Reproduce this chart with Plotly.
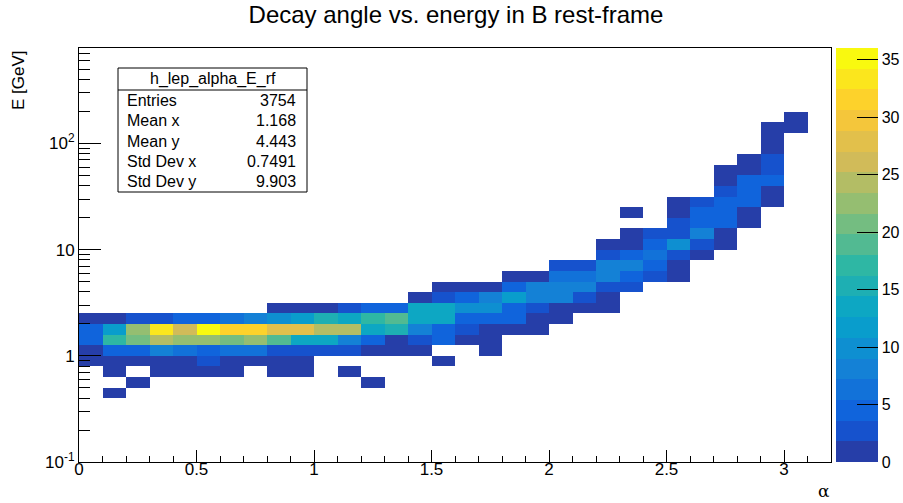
import plotly.graph_objects as go

# ---------------- data ----------------
alpha_edges = [round(0.1 * i, 1) for i in range(33)]          # alpha bins 0 .. 3.2
logE_edges = [round(-1.0 + 0.1 * k, 1) for k in range(40)]     # log10(E/GeV) bins -1 .. 2.9
E_edges = [10 ** v for v in logE_edges]

# occupied E-bin rows: bin index, first alpha-bin index, bin contents from there on
row_index = [6, 7, 8, 9, 10, 11, 12, 13, 14, 15, 16, 17, 18, 19,
             20, 21, 22, 23, 24, 25, 26, 27, 28, 29, 30, 31, 32]
row_start = [1, 2, 1, 0, 0, 0, 0, 0, 8, 14, 15, 18, 20, 22,
             22, 23, 25, 23, 25, 27, 27, 27, 28, 29, 29, 29, 30]
row_counts = [
    [1],
    [1, 0, 0, 0, 0, 0, 0, 0, 0, 0, 1],
    [1, 0, 1, 1, 1, 1, 0, 1, 1, 0, 1],
    [1, 1, 1, 1, 1, 2, 1, 1, 1, 1, 0, 0, 0, 0, 0, 1],
    [1, 4, 4, 8, 6, 4, 6, 6, 2, 2, 2, 2, 1, 1, 1, 0, 0, 1],
    [4, 17, 20, 24, 22, 22, 20, 22, 19, 13, 13, 8, 4, 1, 2, 4, 1, 1],
    [4, 11, 22, 33, 26, 35, 31, 31, 28, 28, 24, 24, 13, 15, 8, 4, 2, 1, 1, 1],
    [1, 1, 2, 2, 4, 4, 6, 8, 10, 12, 15, 13, 17, 19, 13, 13, 4, 4, 4, 1, 1],
    [1, 1, 1, 2, 4, 4, 13, 13, 10, 10, 4, 2, 1, 1, 1],
    [1, 2, 4, 8, 11, 8, 8, 2, 1],
    [1, 1, 1, 4, 8, 8, 8, 2, 2],
    [1, 1, 6, 6, 8, 4, 2, 1],
    [2, 2, 8, 8, 4, 1],
    [2, 4, 6, 2, 1],
    [1, 1, 4, 10, 2, 1],
    [1, 2, 2, 8, 1],
    [2, 4, 4, 1],
    [1, 0, 1, 4, 4, 1],
    [1, 2, 4, 4, 1],
    [2, 4, 1],
    [1, 4, 4],
    [1, 1, 2],
    [1, 2],
    [1],
    [1],
    [1, 1],
    [1],
]

stats_names = ["Entries", "Mean x", "Mean y", "Std Dev x", "Std Dev y"]
stats_values = ["3754", "1.168", "4.443", "0.7491", "9.903"]
hist_name = "h_lep_alpha_E_rf"
z_ticks = [0, 5, 10, 15, 20, 25, 30, 35]
z_max = 36

# ---------------- build matrix ----------------
n_x = len(alpha_edges) - 1
n_y = len(E_edges) - 1
z = [[None] * n_x for _ in range(n_y)]
for k, s, vals in zip(row_index, row_start, row_counts):
    for j, v in enumerate(vals):
        if v > 0:
            z[k][s + j] = v

# ---------------- ROOT kBird palette, 20 contour levels ----------------
stops = [0.0, 0.125, 0.25, 0.375, 0.5, 0.625, 0.75, 0.875, 1.0]
red = [0.2082, 0.0592, 0.0780, 0.0232, 0.1802, 0.5301, 0.8186, 0.9956, 0.9764]
green = [0.1664, 0.3599, 0.5041, 0.6419, 0.7178, 0.7492, 0.7328, 0.7862, 0.9832]
blue = [0.5293, 0.8684, 0.8385, 0.7914, 0.6425, 0.4662, 0.3499, 0.1968, 0.0539]
NCOL = 255
palette = []
for g in range(len(stops) - 1):
    n = int(NCOL * stops[g + 1]) - int(NCOL * stops[g])
    for c in range(n):
        f = c / n
        palette.append((red[g] + (red[g + 1] - red[g]) * f,
                        green[g] + (green[g + 1] - green[g]) * f,
                        blue[g] + (blue[g + 1] - blue[g]) * f))
NDIV = 20
colorscale = []
for i in range(NDIV):
    idx = min(int((i + 0.99) * NCOL / NDIV), NCOL - 1)
    r, gg, b = palette[idx]
    col = "rgb(%d,%d,%d)" % (round(r * 255), round(gg * 255), round(b * 255))
    colorscale.append([i / NDIV, col])
    colorscale.append([(i + 1) / NDIV, col])

# ---------------- geometry (pixels) ----------------
W, H = 903, 503
L, R, T, B = 79, 831, 48, 462
def px(xp):
    return (xp - L) / (R - L)
def py(yp):
    return (B - yp) / (B - T)

FONT = "Liberation Sans, Arial, Helvetica, sans-serif"

fig = go.Figure()
fig.add_trace(go.Heatmap(
    x=alpha_edges, y=E_edges, z=z, zmin=0, zmax=z_max,
    colorscale=colorscale, hoverinfo="skip",
    colorbar=dict(
        x=px(836), xanchor="left", xpad=0, y=0.5, yanchor="middle",
        len=1, lenmode="fraction", ypad=0, thickness=42, thicknessmode="pixels",
        outlinewidth=0, tickmode="array", tickvals=z_ticks,
        ticks="inside", ticklen=21, tickcolor="black", tickwidth=1,
        tickfont=dict(size=16, color="black", family=FONT),
    ),
))

major_y = [0.1, 1, 10, 100]
minor_y = [m * 10 ** d for d in (-1, 0, 1, 2) for m in range(2, 10) if m * 10 ** d < 790]

fig.update_layout(
    width=W, height=H,
    margin=dict(l=L, r=W - R, t=T, b=H - B, pad=0, autoexpand=False),
    paper_bgcolor="white", plot_bgcolor="white",
    font=dict(family=FONT, size=17, color="black"),
    title=dict(text="Decay angle vs. energy in B rest-frame", x=456 / W, xanchor="center",
               y=1 - 15 / H, yanchor="middle", font=dict(size=24, family=FONT)),
    xaxis=dict(range=[0, 3.2], showline=True, mirror=True, linecolor="black", linewidth=1,
               ticks="inside", ticklen=12, tickwidth=1, tickcolor="black",
               tick0=0, dtick=0.5, showgrid=False, zeroline=False,
               ticklabelstandoff=-8,
               minor=dict(ticks="inside", ticklen=6, tick0=0, dtick=0.1, tickcolor="black",
                          showgrid=False),
               tickfont=dict(size=17)),
    yaxis=dict(type="log", range=[-1, 2.9], showline=True, mirror=True, linecolor="black",
               linewidth=1, ticks="inside", ticklen=22, tickwidth=1, tickcolor="black",
               tickmode="array", tickvals=major_y,
               ticktext=["10<sup>-1</sup>", "1", "10", "10<sup>2</sup>"],
               showgrid=False, zeroline=False,
               minor=dict(ticks="inside", ticklen=11, tickmode="array", tickvals=minor_y,
                          tickcolor="black", showgrid=False),
               tickfont=dict(size=17)),
)

ann = []
ann.append(dict(text="E [GeV]", xref="paper", yref="paper", x=px(18), y=1.0,
                xanchor="center", yanchor="top", textangle=-90, showarrow=False,
                font=dict(size=17)))
ann.append(dict(text="α", xref="paper", yref="paper", x=px(832), y=py(491),
                xanchor="right", yanchor="middle", showarrow=False,
                font=dict(size=17, family="DejaVu Serif, serif")))

# stats box
bx0, bx1, by0, by1, bsep = 118, 307, 68, 192, 90
shapes = [
    dict(type="rect", xref="paper", yref="paper", x0=px(bx0), x1=px(bx1), y0=py(by1), y1=py(by0),
         line=dict(color="black", width=1), fillcolor="white", layer="above"),
    dict(type="line", xref="paper", yref="paper", x0=px(bx0), x1=px(bx1), y0=py(bsep), y1=py(bsep),
         line=dict(color="black", width=1), layer="above"),
]
ann.append(dict(text=hist_name, xref="paper", yref="paper", x=px((bx0 + bx1) / 2), y=py(79),
                xanchor="center", yanchor="middle", showarrow=False, font=dict(size=16)))
row_h = (by1 - bsep) / len(stats_names)
for i, (nm, vv) in enumerate(zip(stats_names, stats_values)):
    yc = bsep + row_h * (i + 0.5)
    ann.append(dict(text=nm, xref="paper", yref="paper", x=px(125), y=py(yc),
                    xanchor="left", yanchor="middle", showarrow=False, font=dict(size=16)))
    ann.append(dict(text=vv, xref="paper", yref="paper", x=px(298), y=py(yc),
                    xanchor="right", yanchor="middle", showarrow=False, font=dict(size=16)))

fig.update_layout(annotations=ann, shapes=shapes)
fig.write_html("out.html", config={"displayModeBar": False},
               post_script="document.body.style.margin='0px';")
